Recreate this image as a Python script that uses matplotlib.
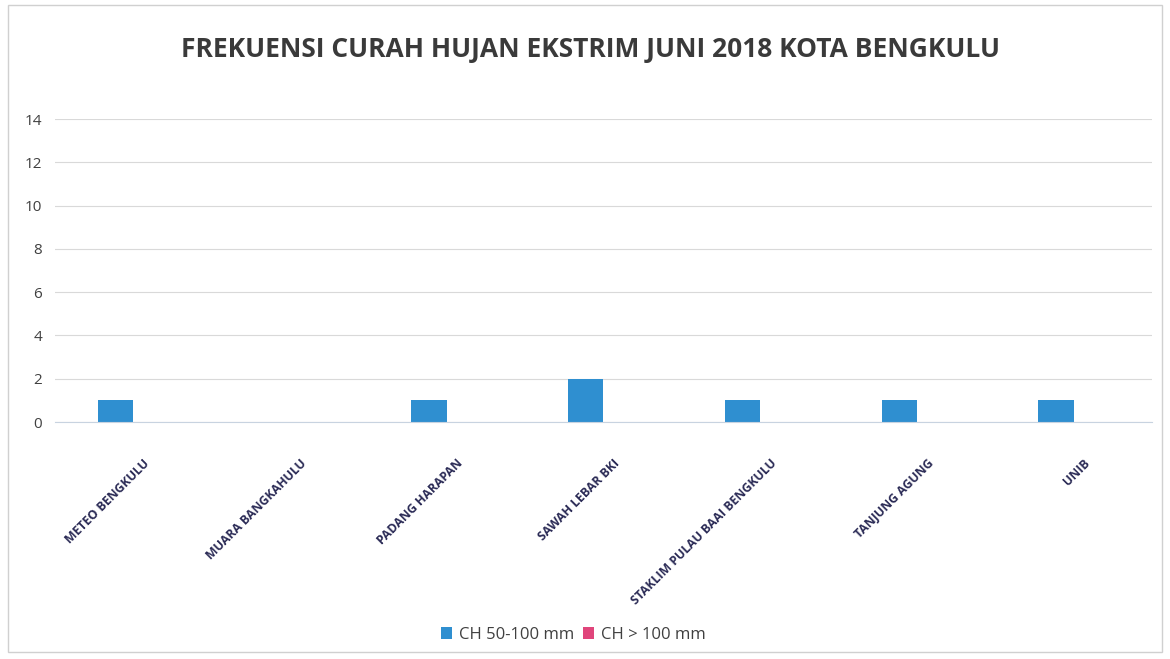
import numpy as np
import matplotlib.pyplot as plt
import matplotlib.transforms as mtransforms
from matplotlib.patches import Rectangle

# data
stasiun = ['METEO BENGKULU', 'MUARA BANGKAHULU', 'PADANG HARAPAN', 'SAWAH LEBAR BKI',
           'STAKLIM PULAU BAAI BENGKULU', 'TANJUNG AGUNG', 'UNIB']
ch_50_100 = [1, 0, 1, 2, 1, 1, 1]
ch_100 = [0, 0, 0, 0, 0, 0, 0]
y_ticks = [0, 2, 4, 6, 8, 10, 12, 14]

plt.rcParams['font.family'] = ['Open Sans', 'DejaVu Sans']

fig = plt.figure(figsize=(11.7, 6.59), dpi=100)
ax = fig.add_axes([0.0467, 0.3596, 0.9379, 0.4598])

x = np.arange(len(stasiun))
w = 0.224
ax.bar(x - w / 2, ch_50_100, width=w, color='#2F8FD0', label='CH 50-100 mm', zorder=3)
ax.bar(x + w / 2, ch_100, width=w, color='#E0457B', label='CH > 100 mm', zorder=3)

ax.set_xlim(-0.5, len(stasiun) - 0.5)
ax.set_ylim(0, 14)
ax.set_yticks(y_ticks)
ax.tick_params(axis='y', length=0, labelsize=11, labelcolor='#404040', pad=9)
ax.tick_params(axis='x', length=0, pad=25)
ax.set_xticks(x)
ax.set_xticklabels(stasiun, rotation=45, ha='right', va='top', rotation_mode='anchor',
                   fontsize=8.8, fontweight='bold', color='#2a2a55')
# label miring sedikit ke kanan seperti di Excel
shift = mtransforms.ScaledTranslation(10 / 100, 0, fig.dpi_scale_trans)
for lab in ax.get_xticklabels():
    lab.set_transform(lab.get_transform() + shift)
ax.grid(axis='y', color='#d9d9d9', linewidth=0.8, zorder=0)
for s in ['top', 'right', 'left']:
    ax.spines[s].set_visible(False)
ax.spines['bottom'].set_color('#c8d3e0')
ax.spines['bottom'].set_zorder(4)

fig.text(0.505, 0.925, 'FREKUENSI CURAH HUJAN EKSTRIM JUNI 2018 KOTA BENGKULU',
         ha='center', va='center', fontsize=19, fontweight='bold', color='#3a3a3a')

fig.legend(loc='center', bbox_to_anchor=(0.490, 0.037), ncol=2, frameon=False,
           fontsize=12, handlelength=0.7, handleheight=0.7, handletextpad=0.4,
           columnspacing=0.5, labelcolor='#404040')

fig.patches.append(Rectangle((0.007, 0.01), 0.986, 0.982, transform=fig.transFigure,
                             fill=False, edgecolor='#d0d0d0', linewidth=1))

fig.savefig('out.png', dpi=100)
